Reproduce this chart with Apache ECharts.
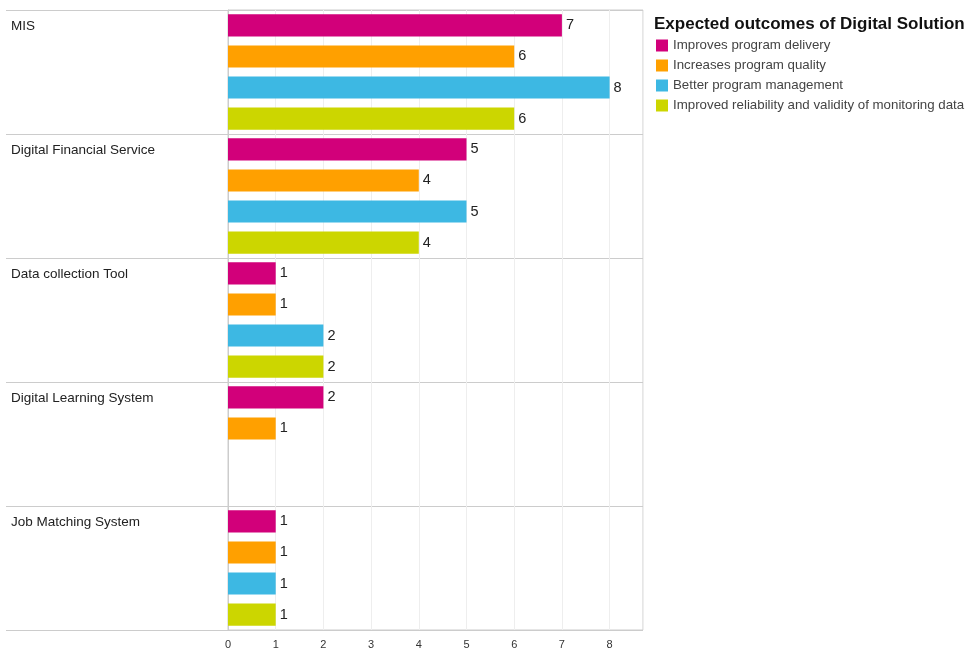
<!DOCTYPE html>
<html><head><meta charset="utf-8">
<script src="https://cdn.jsdelivr.net/npm/echarts@6/dist/echarts.min.js"></script>
<style>html,body{margin:0;padding:0;background:#fff}#c{width:967px;height:651px}</style>
</head><body><div id="c"></div>
<script>
const categories = ["MIS", "Digital Financial Service", "Data collection Tool", "Digital Learning System", "Job Matching System"];
const seriesNames = ["Improves program delivery", "Increases program quality", "Better program management", "Improved reliability and validity of monitoring data"];
const improvesDelivery = [7, 5, 1, 2, 1];
const increasesQuality = [6, 4, 1, 1, 1];
const betterManagement = [8, 5, 2, null, 1];
const improvedReliability = [6, 4, 2, null, 1];
const colors = ["#D2007A", "#FFA000", "#3DB8E3", "#CCD600"];
const legendTitle = "Expected outcomes of Digital Solution";

const FONT = "Liberation Sans, Arial, sans-serif";
const chart = echarts.init(document.getElementById('c'), null, {renderer: 'canvas'});
const values = [improvesDelivery, increasesQuality, betterManagement, improvedReliability];
chart.setOption({
  animation: false,
  color: colors,
  textStyle: {fontFamily: FONT},
  title: {
    text: legendTitle, left: 649, top: 11,
    textStyle: {fontSize: 17, fontWeight: 'bold', color: '#111', fontFamily: FONT}
  },
  legend: {
    orient: 'vertical', left: 651, top: 34,
    itemWidth: 12, itemHeight: 12, itemGap: 7, icon: 'rect',
    textStyle: {fontSize: 13.3, color: '#444', fontFamily: FONT},
    data: seriesNames
  },
  grid: {left: 228, top: 10, right: 324, bottom: 21, show: true, borderColor: '#cccccc', borderWidth: 1},
  xAxis: {
    type: 'value', min: 0, max: 8.7, interval: 1,
    axisLine: {show: false}, axisTick: {show: false},
    splitLine: {lineStyle: {color: '#eeeeee'}},
    axisLabel: {fontSize: 11, color: '#333', margin: 9, fontFamily: FONT,
      formatter: v => Number.isInteger(v) ? String(v) : ''}
  },
  yAxis: {
    type: 'category', data: categories, inverse: true,
    axisLine: {lineStyle: {color: '#cccccc'}},
    axisTick: {show: true, length: 222, lineStyle: {color: '#cccccc'}},
    splitLine: {show: true, lineStyle: {color: '#cccccc'}},
    axisLabel: {align: 'left', margin: 217, fontSize: 13.5, color: '#222', fontFamily: FONT,
      verticalAlign: 'middle', lineHeight: 18.3,
      formatter: v => v + '\n\n\n\n\n '}
  },
  series: seriesNames.map((n, i) => ({
    name: n, type: 'bar', data: values[i],
    barGap: '41%', barCategoryGap: '7%',
    label: {show: true, position: 'right', distance: 4, fontSize: 14.5, color: '#222', fontFamily: FONT},
    itemStyle: {color: colors[i]}
  }))
});
</script></body></html>
